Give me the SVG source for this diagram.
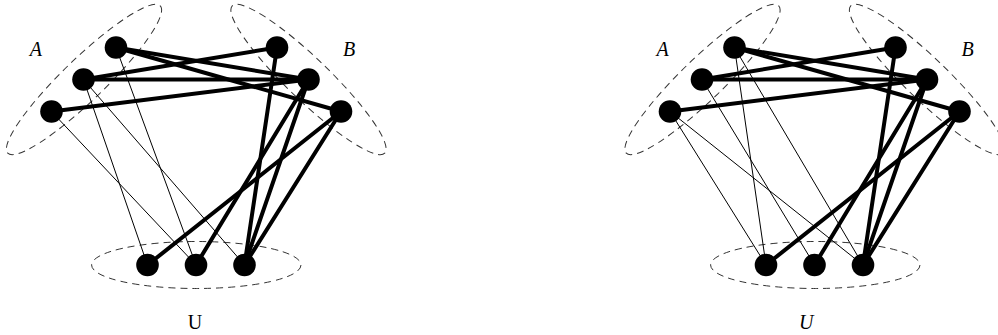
<svg xmlns="http://www.w3.org/2000/svg" width="998" height="335" viewBox="0 0 998 335">
  <style>
    .grp { fill: none; stroke: #333; stroke-width: 1; stroke-dasharray: 7 5; }
    .thin { stroke: #000; stroke-width: 1; fill: none; }
    .thick { stroke: #000; stroke-width: 4; fill: none; stroke-linecap: round; }
    .v { fill: #000; }
    .lbl { font-family: "Liberation Serif", "DejaVu Serif", serif; font-size: 20px; fill: #000; text-anchor: middle; }
    .it { font-style: italic; }
  </style>
  <rect width="998" height="335" fill="#fff"/>

  <!-- left graph -->
  <g id="left">
    <g id="left-groups">
      <ellipse class="grp" cx="84" cy="79.5" rx="106" ry="21" transform="rotate(-44 84 79.5)"/>
      <ellipse class="grp" cx="308.5" cy="79.5" rx="106" ry="21" transform="rotate(44 308.5 79.5)"/>
      <ellipse class="grp" cx="196.3" cy="265" rx="104.7" ry="23.5"/>
    </g>
    <g id="left-connectors">
      <line class="thin" x1="116" y1="47.5" x2="196" y2="265"/>
      <line class="thin" x1="83.5" y1="79.5" x2="147.5" y2="265"/>
      <line class="thin" x1="83.5" y1="79.5" x2="244.5" y2="265"/>
      <line class="thin" x1="51.5" y1="111.5" x2="196" y2="265"/>
      <line class="thick" x1="116" y1="47.5" x2="308.5" y2="79.5"/>
      <line class="thick" x1="116" y1="47.5" x2="341" y2="111.5"/>
      <line class="thick" x1="83.5" y1="79.5" x2="277" y2="47.5"/>
      <line class="thick" x1="83.5" y1="79.5" x2="308.5" y2="79.5"/>
      <line class="thick" x1="51.5" y1="111.5" x2="308.5" y2="79.5"/>
      <line class="thick" x1="277" y1="47.5" x2="244.5" y2="265"/>
      <line class="thick" x1="308.5" y1="79.5" x2="196" y2="265"/>
      <line class="thick" x1="308.5" y1="79.5" x2="244.5" y2="265"/>
      <line class="thick" x1="341" y1="111.5" x2="147.5" y2="265"/>
      <line class="thick" x1="341" y1="111.5" x2="244.5" y2="265"/>
    </g>
    <g id="L-A1"><circle class="v" cx="116" cy="47.5" r="11.3"/></g>
    <g id="L-A2"><circle class="v" cx="83.5" cy="79.5" r="11.3"/></g>
    <g id="L-A3"><circle class="v" cx="51.5" cy="111.5" r="11.3"/></g>
    <g id="L-B1"><circle class="v" cx="277" cy="47.5" r="11.3"/></g>
    <g id="L-B2"><circle class="v" cx="308.5" cy="79.5" r="11.3"/></g>
    <g id="L-B3"><circle class="v" cx="341" cy="111.5" r="11.3"/></g>
    <g id="L-U1"><circle class="v" cx="147.5" cy="265" r="11.3"/></g>
    <g id="L-U2"><circle class="v" cx="196" cy="265" r="11.3"/></g>
    <g id="L-U3"><circle class="v" cx="244.5" cy="265" r="11.3"/></g>
    <text class="lbl it" x="35.8" y="56">A</text>
    <text class="lbl it" x="349" y="56">B</text>
    <text class="lbl" x="195" y="329">U</text>
  </g>

  <!-- right graph -->
  <g id="right">
    <g id="right-groups">
      <ellipse class="grp" cx="702.5" cy="79.5" rx="106" ry="21" transform="rotate(-44 702.5 79.5)"/>
      <ellipse class="grp" cx="927" cy="79.5" rx="106" ry="21" transform="rotate(44 927 79.5)"/>
      <ellipse class="grp" cx="815.3" cy="265" rx="104.7" ry="23.5"/>
    </g>
    <g id="right-connectors">
      <line class="thin" x1="734.5" y1="47.5" x2="766" y2="265"/>
      <line class="thin" x1="734.5" y1="47.5" x2="863" y2="265"/>
      <line class="thin" x1="702" y1="79.5" x2="814.5" y2="265"/>
      <line class="thin" x1="670" y1="111.5" x2="766" y2="265"/>
      <line class="thin" x1="670" y1="111.5" x2="863" y2="265"/>
      <line class="thick" x1="734.5" y1="47.5" x2="927" y2="79.5"/>
      <line class="thick" x1="734.5" y1="47.5" x2="959.5" y2="111.5"/>
      <line class="thick" x1="702" y1="79.5" x2="895.5" y2="47.5"/>
      <line class="thick" x1="702" y1="79.5" x2="927" y2="79.5"/>
      <line class="thick" x1="670" y1="111.5" x2="927" y2="79.5"/>
      <line class="thick" x1="895.5" y1="47.5" x2="863" y2="265"/>
      <line class="thick" x1="927" y1="79.5" x2="814.5" y2="265"/>
      <line class="thick" x1="927" y1="79.5" x2="863" y2="265"/>
      <line class="thick" x1="959.5" y1="111.5" x2="766" y2="265"/>
      <line class="thick" x1="959.5" y1="111.5" x2="863" y2="265"/>
    </g>
    <g id="R-A1"><circle class="v" cx="734.5" cy="47.5" r="11.3"/></g>
    <g id="R-A2"><circle class="v" cx="702" cy="79.5" r="11.3"/></g>
    <g id="R-A3"><circle class="v" cx="670" cy="111.5" r="11.3"/></g>
    <g id="R-B1"><circle class="v" cx="895.5" cy="47.5" r="11.3"/></g>
    <g id="R-B2"><circle class="v" cx="927" cy="79.5" r="11.3"/></g>
    <g id="R-B3"><circle class="v" cx="959.5" cy="111.5" r="11.3"/></g>
    <g id="R-U1"><circle class="v" cx="766" cy="265" r="11.3"/></g>
    <g id="R-U2"><circle class="v" cx="814.5" cy="265" r="11.3"/></g>
    <g id="R-U3"><circle class="v" cx="863" cy="265" r="11.3"/></g>
    <text class="lbl it" x="662.5" y="56">A</text>
    <text class="lbl it" x="967.5" y="56">B</text>
    <text class="lbl it" x="806.3" y="329">U</text>
  </g>
</svg>
